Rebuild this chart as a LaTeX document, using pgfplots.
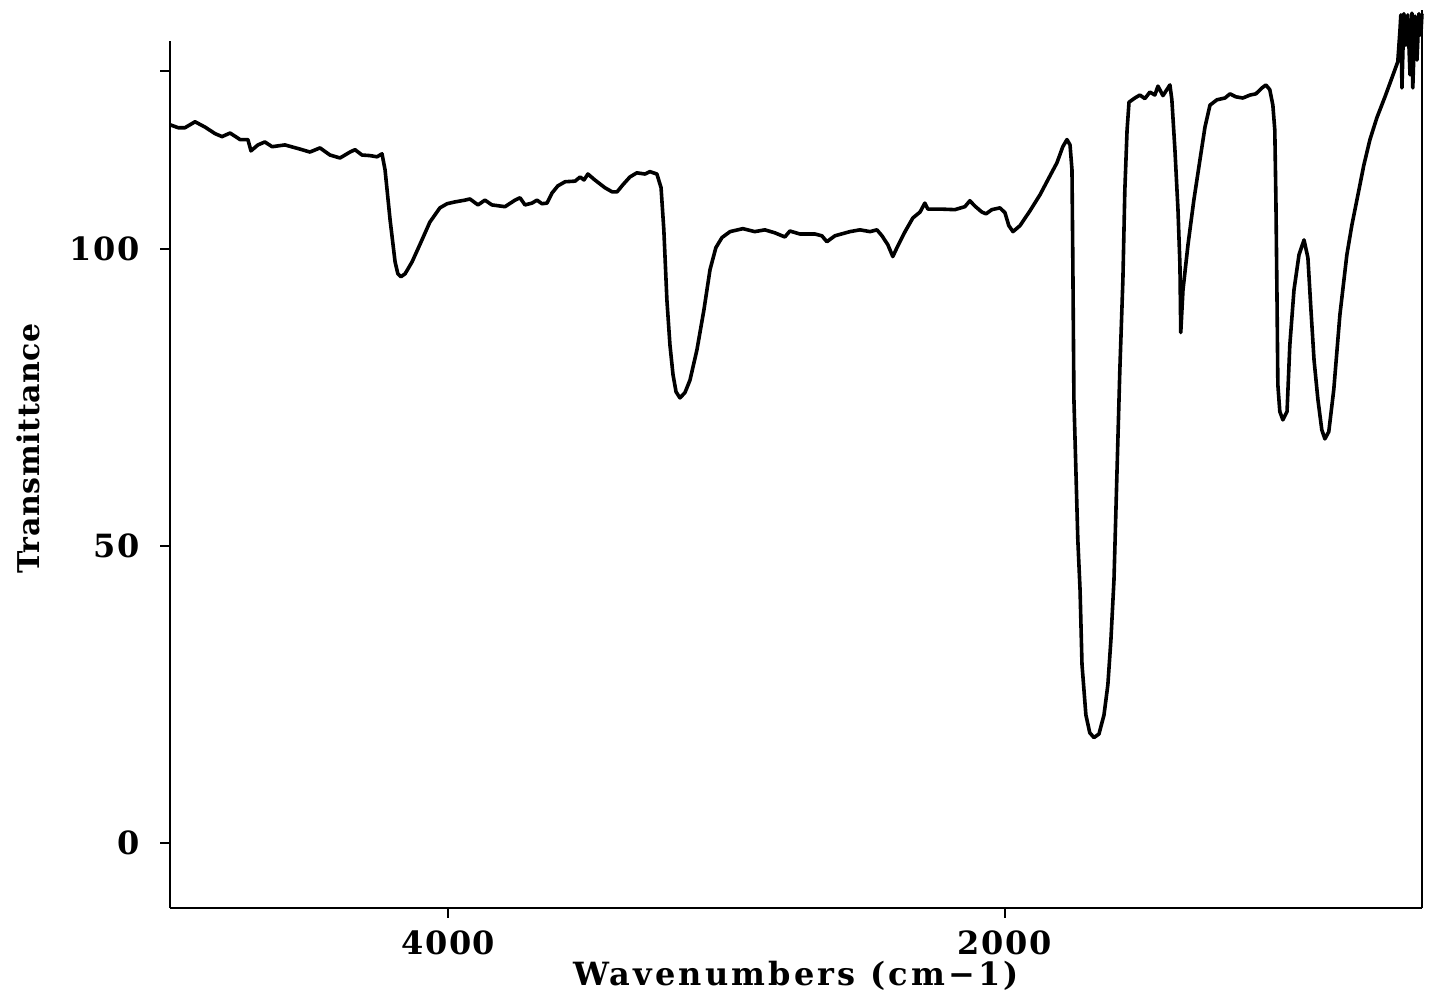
\documentclass[border=0pt]{standalone}
\usepackage{fontspec}
\setmainfont{DejaVu Serif}
\usepackage{pgfplots}
\pgfplotsset{compat=1.18}

% IR spectrum, transmittance vs wavenumber
\pgfplotstableread{
x y
5000 120.9
4971 120.4
4946 120.4
4910 121.4
4874 120.5
4838 119.4
4813 118.9
4784 119.5
4748 118.4
4720 118.4
4709 116.5
4684 117.5
4659 118.0
4633 117.2
4587 117.5
4533 116.8
4497 116.3
4461 117.0
4425 115.8
4389 115.3
4353 116.3
4335 116.7
4310 115.8
4281 115.7
4256 115.5
4238 116.0
4227 113.3
4209 104.9
4191 97.8
4181 95.8
4170 95.3
4155 95.8
4130 97.8
4102 100.7
4066 104.5
4030 106.9
4004 107.6
3976 107.9
3940 108.2
3922 108.4
3893 107.4
3868 108.2
3843 107.4
3796 107.1
3760 108.2
3742 108.6
3724 107.4
3699 107.7
3681 108.2
3663 107.6
3645 107.7
3627 109.4
3606 110.6
3580 111.3
3544 111.4
3526 112.1
3512 111.6
3498 112.6
3473 111.6
3437 110.3
3411 109.6
3393 109.6
3372 110.8
3347 112.1
3322 112.8
3293 112.6
3275 113.0
3250 112.6
3235 110.3
3225 103.2
3214 91.4
3203 83.8
3192 78.8
3181 75.9
3167 74.9
3149 75.8
3131 77.9
3106 83.0
3081 89.7
3059 96.5
3038 100.2
3016 101.9
2987 102.9
2941 103.4
2898 102.9
2862 103.2
2826 102.7
2790 102.0
2772 103.0
2736 102.5
2682 102.5
2657 102.2
2639 101.2
2610 102.2
2556 102.9
2520 103.2
2484 102.9
2459 103.2
2441 102.2
2420 100.7
2402 98.7
2387 100.2
2358 102.9
2330 105.2
2304 106.2
2287 107.7
2276 106.7
2233 106.7
2179 106.6
2143 107.1
2125 108.1
2107 107.2
2082 106.2
2067 105.9
2046 106.6
2017 106.9
1999 106.1
1985 103.9
1970 102.9
1945 103.9
1909 106.4
1873 109.1
1837 112.3
1812 114.5
1791 117.2
1776 118.4
1765 117.5
1758 113.3
1755 98.1
1751 74.6
1744 62.8
1737 51.0
1729 42.6
1722 30.0
1708 21.5
1694 18.5
1679 17.7
1661 18.3
1643 21.5
1629 26.6
1618 34.2
1607 44.3
1596 62.8
1586 79.6
1575 94.8
1568 109.9
1560 120.0
1553 124.7
1532 125.4
1514 125.9
1496 125.3
1478 126.4
1460 125.9
1449 127.4
1431 125.8
1406 127.6
1399 125.1
1388 116.7
1377 106.6
1370 97.3
1367 85.9
1359 93.1
1341 100.7
1320 108.2
1298 115.0
1280 120.5
1262 124.2
1237 125.1
1208 125.4
1190 126.1
1169 125.6
1144 125.4
1118 125.9
1097 126.1
1075 127.1
1061 127.6
1047 126.8
1036 124.2
1029 120.0
1025 108.2
1021 91.4
1018 77.1
1011 72.6
1000 71.2
985 72.6
975 83.8
960 93.1
942 99.0
924 101.5
910 98.5
899 89.7
888 81.3
874 74.6
860 69.5
849 68.0
835 69.2
817 76.3
795 88.9
770 99.0
752 104.0
734 108.2
709 114.1
687 118.4
662 122.1
633 125.6
608 128.8
587 131.5
579 136.9
576 139.4
572 127.1
565 139.6
558 134.3
551 139.4
543 129.3
536 139.7
533 127.1
525 139.2
518 131.8
511 139.6
504 136.0
500 139.6
}\spectrum

\begin{document}
\begin{tikzpicture}
\begin{axis}[
  scale only axis,
  width=626pt, height=433.5pt,
  x dir=reverse,
  xmin=500, xmax=5000,
  ymin=-11, ymax=135,
  axis x line*=bottom, axis y line*=left,
  axis line style={-, line width=1.3pt},
  xtick={2000,4000}, ytick={0,50,100},
  extra y ticks={130}, extra y tick labels={},
  tick align=outside, major tick length=5pt,
  tick style={line width=1.1pt, black},
  /pgf/number format/assume math mode=true,
  /pgf/number format/1000 sep={},
  tick label style={font=\bfseries\fontsize{16}{19}\selectfont\addfontfeature{LetterSpace=5}},
  xticklabel style={yshift=-3pt},
  yticklabel style={xshift=-6.5pt},
  xlabel={Wavenumbers (cm−1)},
  ylabel={Transmittance},
  xlabel style={font=\bfseries\fontsize{16}{19}\selectfont\addfontfeature{LetterSpace=10},
    at={(axis description cs:0.5,-0.0895)}, anchor=base, inner sep=0pt},
  ylabel style={font=\bfseries\fontsize{15}{18}\selectfont\addfontfeature{LetterSpace=2},
    at={(axis description cs:-0.1034,0.53)}, anchor=south, inner sep=0pt},
  clip=false,
]
\addplot[black, line width=1.8pt, line join=round] table[x=x,y=y] {\spectrum};
\draw[line width=1.3pt] (rel axis cs:1,0) -- (rel axis cs:1,1.036);
\path (rel axis cs:-0.1358,-0.1107) rectangle (rel axis cs:1.0072,1.0473);
\end{axis}
\end{tikzpicture}
\end{document}
